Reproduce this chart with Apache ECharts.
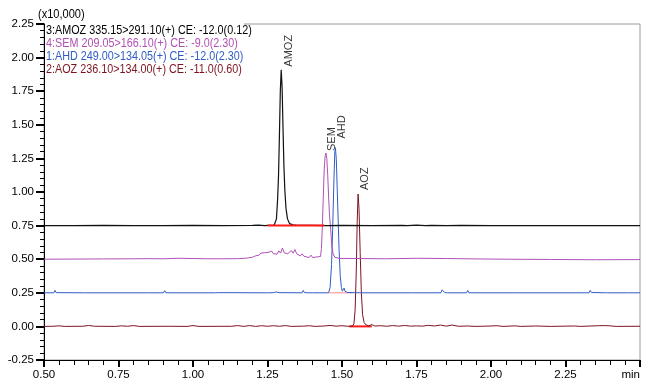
<!DOCTYPE html>
<html><head><meta charset="utf-8">
<script src="https://cdn.jsdelivr.net/npm/echarts@6/dist/echarts.min.js"></script>
<style>html,body{margin:0;padding:0;background:#fff}#c{width:657px;height:388px}</style>
</head><body><div id="c"></div>
<script>
// x axis (min) and y axis (x10,000) ticks
const xTicks = [0.50, 0.75, 1.00, 1.25, 1.50, 1.75, 2.00, 2.25, 2.50];
const yTicks = [-0.25, 0.00, 0.25, 0.50, 0.75, 1.00, 1.25, 1.50, 1.75, 2.00, 2.25];
const legendLines = [
  "3:AMOZ 335.15>291.10(+) CE: -12.0(0.12)",
  "4:SEM 209.05>166.10(+) CE: -9.0(2.30)",
  "1:AHD 249.00>134.05(+) CE: -12.0(2.30)",
  "2:AOZ 236.10>134.00(+) CE: -11.0(0.60)"
];
const peakNames = ["AMOZ", "SEM", "AHD", "AOZ"];
const peakApex = [[1.296, 1.91], [1.446, 1.29], [1.478, 1.33], [1.554, 0.985]];

const amoz = [[0.50,0.750],[0.60,0.750],[0.70,0.751],[0.80,0.750],[0.90,0.750],[1.00,0.751],[1.10,0.750],[1.20,0.751],[1.22,0.753],[1.24,0.750],[1.255,0.752],[1.265,0.751],[1.273,0.756],[1.280,0.80],[1.284,0.95],[1.287,1.12],[1.290,1.42],[1.293,1.75],[1.296,1.91],[1.299,1.78],[1.302,1.48],[1.305,1.20],[1.308,1.02],[1.312,0.88],[1.317,0.80],[1.324,0.765],[1.335,0.755],[1.35,0.752],[1.40,0.751],[1.45,0.750],[1.50,0.751],[1.60,0.750],[1.70,0.752],[1.72,0.750],[1.75,0.753],[1.78,0.750],[1.80,0.752],[1.85,0.750],[1.90,0.751],[2.00,0.750],[2.20,0.750],[2.50,0.750]];

const sem = [[0.50,0.500],[0.60,0.501],[0.70,0.502],[0.80,0.503],[0.85,0.504],[0.90,0.503],[0.95,0.507],[1.00,0.505],[1.05,0.503],[1.10,0.503],[1.15,0.504],[1.18,0.508],[1.20,0.515],[1.21,0.525],[1.215,0.538],[1.222,0.530],[1.228,0.545],[1.234,0.535],[1.240,0.548],[1.246,0.535],[1.252,0.550],[1.258,0.538],[1.264,0.560],[1.270,0.540],[1.276,0.552],[1.282,0.538],[1.288,0.562],[1.294,0.545],[1.300,0.583],[1.306,0.548],[1.312,0.560],[1.318,0.540],[1.324,0.548],[1.330,0.565],[1.336,0.545],[1.342,0.572],[1.348,0.540],[1.354,0.532],[1.360,0.525],[1.366,0.540],[1.372,0.522],[1.380,0.518],[1.390,0.512],[1.396,0.530],[1.402,0.512],[1.410,0.515],[1.420,0.518],[1.428,0.520],[1.431,0.58],[1.434,0.74],[1.437,0.95],[1.440,1.15],[1.443,1.26],[1.446,1.29],[1.449,1.25],[1.452,1.13],[1.455,0.97],[1.458,0.83],[1.462,0.72],[1.466,0.60],[1.470,0.54],[1.476,0.515],[1.49,0.506],[1.55,0.505],[1.65,0.503],[1.75,0.507],[1.85,0.505],[1.95,0.502],[2.05,0.500],[2.20,0.498],[2.35,0.496],[2.50,0.497]];

const ahd = [[0.50,0.250],[0.533,0.250],[0.537,0.268],[0.541,0.251],[0.636,0.250],[0.640,0.256],[0.644,0.250],[0.846,0.250],[0.850,0.260],[0.854,0.250],[0.901,0.250],[0.905,0.266],[0.909,0.250],[1.075,0.250],[1.080,0.257],[1.085,0.251],[1.242,0.250],[1.246,0.256],[1.250,0.250],[1.270,0.251],[1.274,0.264],[1.279,0.256],[1.284,0.260],[1.289,0.251],[1.366,0.250],[1.370,0.268],[1.374,0.251],[1.393,0.250],[1.397,0.257],[1.401,0.250],[1.455,0.250],[1.460,0.29],[1.465,0.46],[1.469,0.75],[1.473,1.10],[1.476,1.30],[1.478,1.33],[1.481,1.24],[1.484,1.02],[1.487,0.80],[1.490,0.58],[1.494,0.38],[1.498,0.29],[1.501,0.262],[1.504,0.270],[1.507,0.285],[1.510,0.262],[1.514,0.270],[1.518,0.252],[1.56,0.250],[1.728,0.250],[1.732,0.257],[1.736,0.250],[1.832,0.250],[1.836,0.272],[1.841,0.258],[1.845,0.251],[1.849,0.262],[1.854,0.250],[1.918,0.250],[1.922,0.267],[1.926,0.250],[2.080,0.250],[2.084,0.258],[2.088,0.250],[2.329,0.250],[2.333,0.268],[2.337,0.252],[2.384,0.250],[2.388,0.259],[2.392,0.250],[2.457,0.250],[2.461,0.255],[2.465,0.250],[2.50,0.250]];

const aoz = [[0.50,0.000],[0.53,0.001],[0.55,0.004],[0.57,0.000],[0.63,0.001],[0.65,0.007],[0.67,0.001],[0.74,0.000],[0.76,0.004],[0.78,0.001],[0.80,0.006],[0.82,0.000],[0.92,0.001],[0.98,0.000],[1.00,0.006],[1.02,0.000],[1.13,0.001],[1.15,0.006],[1.17,0.000],[1.19,0.006],[1.21,0.000],[1.23,0.005],[1.25,0.001],[1.27,0.005],[1.29,0.001],[1.31,0.006],[1.33,0.000],[1.37,0.002],[1.39,0.005],[1.41,0.000],[1.44,0.003],[1.46,0.007],[1.48,0.002],[1.50,0.005],[1.52,0.001],[1.535,0.002],[1.540,0.02],[1.544,0.12],[1.548,0.42],[1.551,0.78],[1.554,0.985],[1.557,0.88],[1.561,0.55],[1.565,0.25],[1.569,0.09],[1.574,0.03],[1.58,0.012],[1.59,0.004],[1.60,0.014],[1.61,0.003],[1.63,0.005],[1.65,0.001],[1.67,0.006],[1.69,0.002],[1.71,0.007],[1.73,0.002],[1.75,0.004],[1.77,0.002],[1.79,0.008],[1.81,0.003],[1.83,0.010],[1.85,0.002],[1.87,0.010],[1.89,0.001],[1.92,0.003],[1.95,0.000],[2.00,0.003],[2.02,0.005],[2.04,0.000],[2.08,0.004],[2.10,0.000],[2.15,0.003],[2.20,0.000],[2.28,0.003],[2.30,0.000],[2.36,0.005],[2.38,0.006],[2.40,0.004],[2.42,0.000],[2.50,0.001]];

// integration baselines
const amozBase = [[1.25,0.75],[1.44,0.75]];
const ahdBase = [[1.456,0.251],[1.535,0.251]];
const aozBase = [[1.525,0.0],[1.60,0.0]];

const traceColors = ["#111111", "#b050b4", "#2f5cc4", "#7c1420"];
const textColors = ["#000000", "#b050b4", "#2f5cc4", "#7c1420"];
const FN = "'Liberation Sans',Arial,sans-serif";
const chart = echarts.init(document.getElementById('c'), null, {renderer: 'canvas'});

function line(data, color, w, z) {
  return {type: 'line', data: data, showSymbol: false, symbol: 'none', smooth: false,
    lineStyle: {color: color, width: w}, z: z, animation: false, silent: true};
}
const labelOffsets = [[8, -3], [6, -2], [7, -9], [7, -4]];
const labelSeries = peakNames.map((n, i) => ({
  type: 'scatter', symbolSize: 0.1, z: 10, animation: false, silent: true,
  data: [{value: peakApex[i], name: n}],
  label: {show: true, formatter: '{b}', rotate: 90, position: labelOffsets[i],
    align: 'left', verticalAlign: 'middle', color: '#000', fontSize: 11,
    fontFamily: FN}
}));

chart.setOption({
  animation: false,
  grid: {left: 44, right: 17, top: 24, bottom: 28, show: true, borderColor: '#9a9a9a', borderWidth: 1},
  xAxis: {type: 'value', min: xTicks[0], max: xTicks[xTicks.length-1], interval: 0.25,
    splitLine: {show: false},
    axisLine: {show: true, onZero: false, lineStyle: {color: '#000', width: 1}},
    axisTick: {show: true, length: 7, lineStyle: {color: '#000', width: 2}},
    minorTick: {show: true, splitNumber: 5, length: 5, lineStyle: {color: '#000', width: 1}},
    axisLabel: {color: '#000', fontSize: 11.5, fontFamily: FN, margin: 9, alignMaxLabel: 'right',
      formatter: v => Math.abs(v - xTicks[xTicks.length-1]) < 1e-6 ? 'min' : v.toFixed(2)}},
  yAxis: {type: 'value', min: yTicks[0], max: yTicks[yTicks.length-1], interval: 0.25,
    splitLine: {show: false},
    axisLine: {show: true, onZero: false, lineStyle: {color: '#000', width: 1}},
    axisTick: {show: true, length: 8, lineStyle: {color: '#000', width: 2}},
    minorTick: {show: true, splitNumber: 5, length: 4, lineStyle: {color: '#000', width: 1}},
    axisLabel: {color: '#000', fontSize: 11.5, fontFamily: FN, margin: 10,
      formatter: v => v.toFixed(2)}},
  graphic: [
    {type: 'rect', left: 45, top: 21, shape: {width: 199, height: 6}, style: {fill: '#fff'}, z: 50},
    {type: 'text', left: 38, top: 8, scaleX: 0.85, z: 60, style: {text: '(x10,000)', fill: '#000', font: "13px " + FN}}
  ].concat(legendLines.map((t, i) => ({type: 'text', left: 46, top: 24 + i * 13, scaleX: 0.83, z: 60,
    style: {text: t, fill: textColors[i], font: "13px " + FN}}))),
  series: [
    line(aoz, traceColors[3], 1, 2),
    line(ahd, traceColors[2], 1, 3),
    line(sem, traceColors[1], 1, 4),
    line(amoz, traceColors[0], 1.2, 5),
    line(amozBase, '#ff1a1a', 2, 6),
    line(ahdBase, '#ffb4b4', 1.5, 2.5),
    line(aozBase, '#ff1a1a', 2, 1.5)
  ].concat(labelSeries)
});
</script></body></html>
